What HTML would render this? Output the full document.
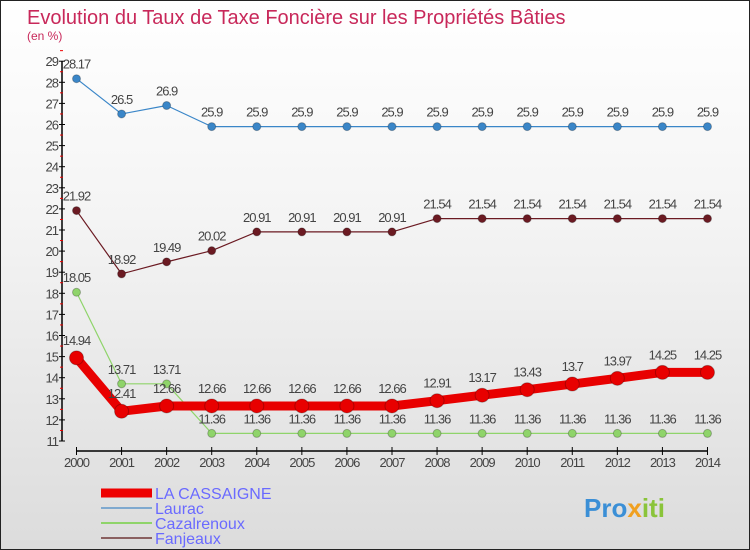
<!DOCTYPE html>
<html><head><meta charset="utf-8"><style>
html,body{margin:0;padding:0}
body{width:750px;height:550px;overflow:hidden;font-family:"Liberation Sans",sans-serif}
#wrap{position:relative;width:748px;height:548px;border:1px solid #222;background:linear-gradient(#ffffff,#f4f4f4 40%,#dcdcdc)}
</style></head><body>
<div id="wrap">
<svg id="chart" width="748" height="548" style="position:absolute;left:0;top:0">
<text x="26" y="23" font-size="20" fill="#c8285a">Evolution du Taux de Taxe Foncière sur les Propriétés Bâties</text>
<text x="26" y="39" font-size="12" fill="#c8285a">(en %)</text>
<g id="axes"></g><g id="series"></g>
<g id="legend">
<line x1="100" y1="492" x2="151" y2="492" stroke="#e00" stroke-width="9"/>
<text x="154" y="498" font-size="16" fill="#6a6aff">LA CASSAIGNE</text>
<line x1="100" y1="507" x2="151" y2="507" stroke="#7fa9cf" stroke-width="2"/>
<text x="154" y="513" font-size="16" fill="#6a6aff">Laurac</text>
<line x1="100" y1="522" x2="151" y2="522" stroke="#8fd46a" stroke-width="2"/>
<text x="154" y="528" font-size="16" fill="#6a6aff">Cazalrenoux</text>
<line x1="100" y1="537" x2="151" y2="537" stroke="#8a6060" stroke-width="2"/>
<text x="154" y="543" font-size="16" fill="#6a6aff">Fanjeaux</text>
</g>
<text x="583" y="516" font-size="26" font-weight="bold" fill="#3b8fd6">Pro<tspan fill="#f0a020">x</tspan><tspan fill="#8ac43a">iti</tspan></text>
</svg>
</div>
<script>
const years=[2000,2001,2002,2003,2004,2005,2006,2007,2008,2009,2010,2011,2012,2013,2014];
const yTicks=[11,12,13,14,15,16,17,18,19,20,21,22,23,24,25,26,27,28,29];
const laCassaigne=[14.94,12.41,12.66,12.66,12.66,12.66,12.66,12.66,12.91,13.17,13.43,13.7,13.97,14.25,14.25];
const laurac=[28.17,26.5,26.9,25.9,25.9,25.9,25.9,25.9,25.9,25.9,25.9,25.9,25.9,25.9,25.9];
const cazalrenoux=[18.05,13.71,13.71,11.36,11.36,11.36,11.36,11.36,11.36,11.36,11.36,11.36,11.36,11.36,11.36];
const fanjeaux=[21.92,18.92,19.49,20.02,20.91,20.91,20.91,20.91,21.54,21.54,21.54,21.54,21.54,21.54,21.54];
const NS='http://www.w3.org/2000/svg';
function xs(i){return 75.5+i*45.07;}
function ys(v){return 440-(v-11)*21.1;}
function mk(tag,attrs,parent){const e=document.createElementNS(NS,tag);for(const k in attrs)e.setAttribute(k,attrs[k]);parent.appendChild(e);return e;}
const axes=document.getElementById('axes');
let yl=mk('line',{x1:61,y1:ys(29),x2:61,y2:440,stroke:'#000','stroke-width':1.5},axes);


yTicks.forEach(v=>{
 mk('line',{x1:58,y1:ys(v),x2:64,y2:ys(v),stroke:'#000'},axes);
 mk('line',{x1:59,y1:ys(v+0.5),x2:62,y2:ys(v+0.5),stroke:'#e00'},axes);
 const t=mk('text',{x:57,y:ys(v)+5,'font-size':13,fill:'#444','text-anchor':'end','letter-spacing':'-1'},axes);
 t.textContent=v;
 
 
});
let xl=mk('line',{x1:xs(0),y1:450,x2:xs(14),y2:450,stroke:'#000','stroke-width':1.5},axes);


years.forEach((y,i)=>{
 mk('line',{x1:xs(i),y1:446,x2:xs(i),y2:454,stroke:'#000'},axes);
 const t=mk('text',{x:xs(i),y:466,'font-size':13,fill:'#444','text-anchor':'middle','letter-spacing':'-1'},axes);
 t.textContent=y;
 
 
});
const sg=document.getElementById('series');
function series(name,data,color,w,r){
 const g=mk('g',{},sg);
 
 
 const pl=mk('polyline',{points:data.map((v,i)=>xs(i)+','+ys(v)).join(' '),fill:'none',stroke:color,'stroke-width':w,'stroke-linejoin':'round'},g);
 
 
 data.forEach((v,i)=>{
  const c=mk('circle',{cx:xs(i),cy:ys(v),r:r,fill:color,stroke:'rgba(0,0,0,0.25)'},g);
  
  
  const t=mk('text',{x:xs(i),y:ys(v)-r-6,'font-size':13,fill:'#444','text-anchor':'middle','letter-spacing':'-1'},g);
  t.textContent=String(v);
  
  
 });
}
series('laurac',laurac,'#3a86c8',1.2,4);
series('fanjeaux',fanjeaux,'#6b1a22',1.2,4);
series('cazalrenoux',cazalrenoux,'#8fd46a',1.2,4);
series('la-cassaigne',laCassaigne,'#e80000',9,7);
</script>
</body></html>
